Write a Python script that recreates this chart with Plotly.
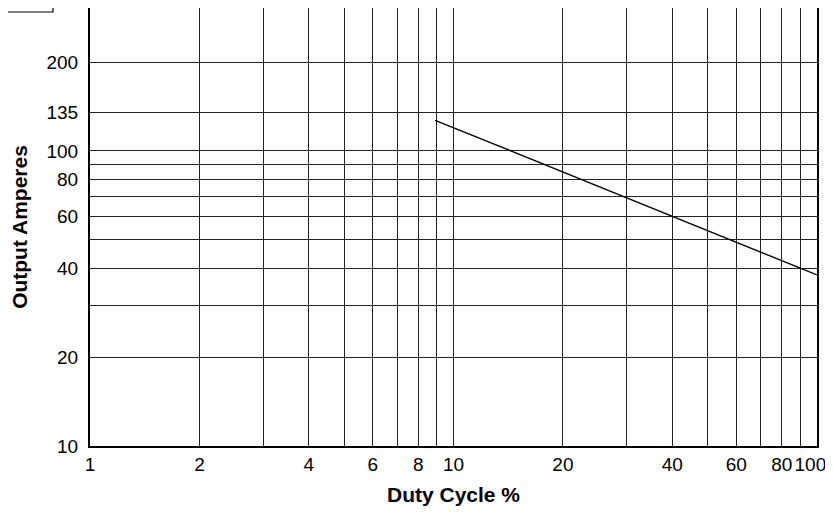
import math
import plotly.graph_objects as go

# duty cycle rating line
duty_cycle = [8.9, 100]
output_amps = [127, 38]

# grid lines and their labels (trailing em space keeps "100" inside the window)
x_grid = [1, 2, 3, 4, 5, 6, 7, 8, 9, 10, 20, 30, 40, 50, 60, 70, 80, 90, 100]
x_labels = ['1', '2', '', '4', '', '6', '', '8', '', '10', '20', '', '40', '', '60', '', '80', '', '100\u2002\u2009']
y_grid = [10, 20, 30, 40, 50, 60, 70, 80, 90, 100, 135, 200]
y_labels = ['10', '20', '', '40', '', '60', '', '80', '', '100', '135', '200']

font = 'Liberation Sans, Arial, Helvetica, sans-serif'

fig = go.Figure()
fig.add_trace(go.Scatter(
    x=duty_cycle,
    y=output_amps,
    mode='lines',
    line=dict(color='black', width=1.4),
    showlegend=False,
    hoverinfo='skip',
))

fig.update_xaxes(
    type='log',
    range=[0, 2],
    tickmode='array',
    tickvals=x_grid,
    ticktext=x_labels,
    showgrid=True,
    gridcolor='#222',
    gridwidth=1.2,
    showline=True,
    linecolor='black',
    linewidth=2,
    mirror=True,
    ticks='',
    ticklabelstandoff=0,
    ticklabeloverflow='allow',
    tickfont=dict(family=font, size=19, color='black'),
    title=dict(text='<b>Duty Cycle %</b>', font=dict(family=font, size=21, color='black'), standoff=18),
    zeroline=False,
    automargin=False,
)
fig.update_yaxes(
    type='log',
    range=[1, math.log10(305)],
    tickmode='array',
    tickvals=y_grid,
    ticktext=y_labels,
    showgrid=True,
    gridcolor='#222',
    gridwidth=1.2,
    showline=True,
    linecolor='black',
    linewidth=2,
    mirror=True,
    ticks='',
    ticklabelstandoff=6,
    tickfont=dict(family=font, size=19, color='black'),
    title=dict(text='<b>Output Amperes</b>', font=dict(family=font, size=21, color='black'), standoff=19),
    zeroline=False,
    automargin=False,
)

# small cropped icon box in the top-left corner
fig.add_shape(
    type='rect', xref='paper', yref='paper',
    x0=-0.2, x1=-0.0509, y0=0.9909, y1=1.05,
    line=dict(color='black', width=1.2), fillcolor='white',
)

fig.update_layout(
    width=825,
    height=498,
    margin=dict(l=82, r=16, t=0, b=60),
    plot_bgcolor='white',
    paper_bgcolor='white',
    font=dict(family=font, color='black'),
)

fig.write_html('out.html')
